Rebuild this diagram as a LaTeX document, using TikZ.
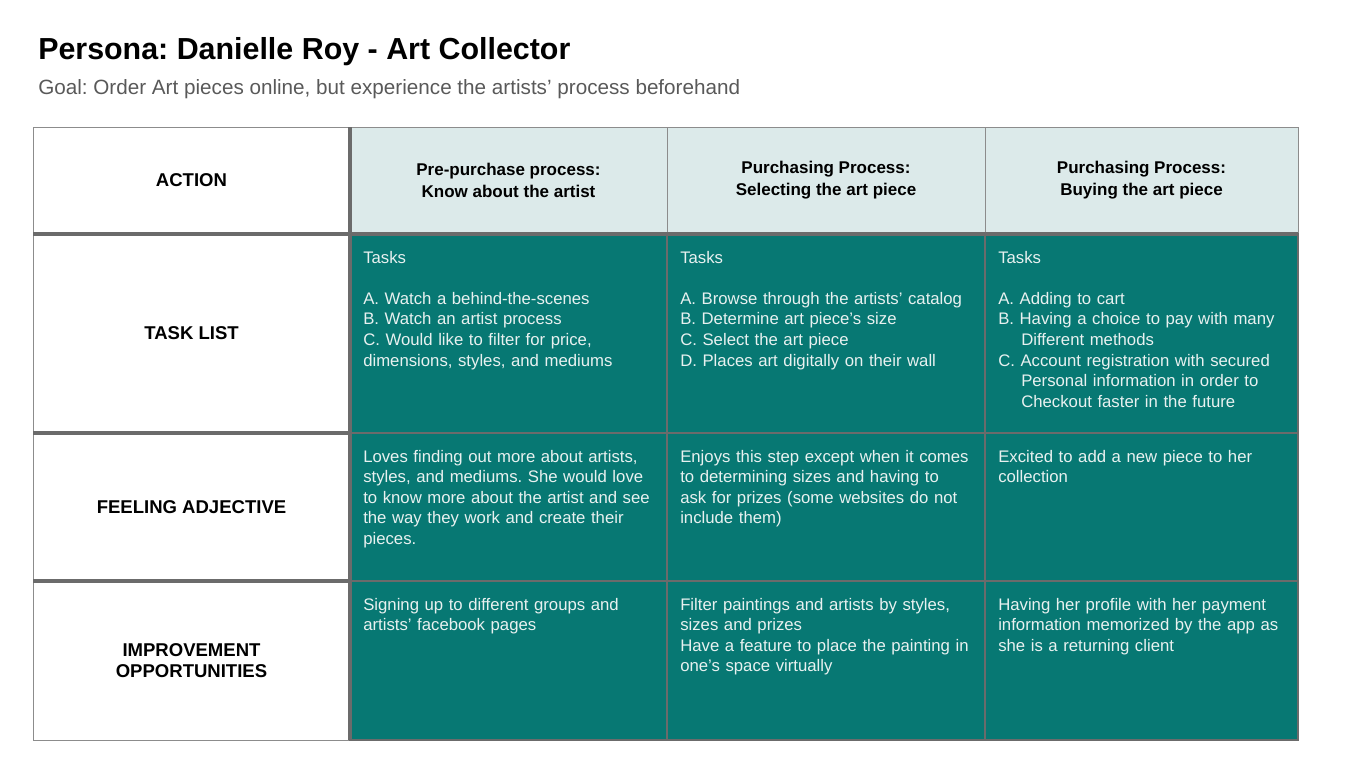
\documentclass[tikz,border=0pt]{standalone}
\usepackage{fontspec}
\setmainfont{Liberation Sans}
\usetikzlibrary{positioning}
\definecolor{myteal}{HTML}{077873}
\definecolor{mymint}{HTML}{DCEAEA}
\definecolor{mygrey}{HTML}{6B6B6B}
\definecolor{mylight}{HTML}{8C8C8C}
\definecolor{mytext}{HTML}{E8F1F0}
\definecolor{mygoal}{HTML}{595959}
\frenchspacing

\begin{document}
\begin{tikzpicture}[x=0.75pt, y=-0.75pt, node distance=0pt,
  cell/.style={inner sep=0pt, outer sep=0pt, draw=mylight, line width=0.75pt},
  head/.style={cell, fill=mymint, minimum height=80.25pt, align=center, font=\fontsize{12.75}{16.5}\selectfont\bfseries},
  side/.style={cell, fill=white, minimum width=237.75pt, align=center, font=\fontsize{13.9}{16.3}\selectfont\bfseries},
  body/.style={cell, fill=myteal, draw=none},
  txt/.style={anchor=north west, inner sep=0pt, text width=230pt, align=left, text=mytext, font=\fontsize{12.55}{15.4}\selectfont},
  sep/.style={draw=mygrey, line width=2.4pt}]

\useasboundingbox (0,0) rectangle (1370,771);

% title and goal
\node[anchor=base west, inner sep=0pt, font=\fontsize{22.8}{27}\selectfont\bfseries] (title) at (38,59) {Persona: Danielle Roy - Art Collector};
\node[anchor=base west, inner sep=0pt, text=mygoal, font=\fontsize{15.5}{18}\selectfont] (goal) at (38,94) {Goal: Order Art pieces online, but experience the artists' process beforehand};

% header row
\node[side, minimum height=80.25pt, anchor=north west] (action) at (33,127) {ACTION};
\node[head, minimum width=237.75pt, right=of action] (pre) {Pre-purchase process:\\ Know about the artist};
\node[head, minimum width=238.5pt, right=of pre] (select) {Purchasing Process:\\ Selecting the art piece};
\node[head, minimum width=234.75pt, right=of select] (buy) {Purchasing Process:\\ Buying the art piece};

% left column
\node[side, minimum height=149.25pt, below=of action] (tasklist) {TASK LIST};
\node[side, minimum height=111pt, below=of tasklist] (feeling) {FEELING ADJECTIVE};
\node[side, minimum height=119.25pt, below=of feeling] (improve) {IMPROVEMENT\\ OPPORTUNITIES};

% teal cells
\node[body, minimum width=237.75pt, minimum height=149.25pt, below=of pre] (pretask) {};
\node[body, minimum width=238.5pt, minimum height=149.25pt, below=of select] (seltask) {};
\node[body, minimum width=234.75pt, minimum height=149.25pt, below=of buy] (buytask) {};
\node[body, minimum width=237.75pt, minimum height=111pt, below=of pretask] (prefeel) {};
\node[body, minimum width=238.5pt, minimum height=111pt, below=of seltask] (selfeel) {};
\node[body, minimum width=234.75pt, minimum height=111pt, below=of buytask] (buyfeel) {};
\node[body, minimum width=237.75pt, minimum height=119.25pt, below=of prefeel] (preimp) {};
\node[body, minimum width=238.5pt, minimum height=119.25pt, below=of selfeel] (selimp) {};
\node[body, minimum width=234.75pt, minimum height=119.25pt, below=of buyfeel] (buyimp) {};

% teal grid lines
\foreach \c in {pretask,seltask,buytask,prefeel,selfeel,buyfeel,preimp,selimp,buyimp}
  \draw[mygrey, line width=1.1pt] (\c.north west) rectangle (\c.south east);

% thick separators
\draw[sep] (action.south west) -- (buy.south east);
\draw[sep] (tasklist.south west) -- (tasklist.south east);
\draw[sep] (feeling.south west) -- (feeling.south east);
\draw[sep] (action.north east) -- (improve.south east);

% task list texts
\node[txt] (pretasktxt) at ([xshift=9.75pt,yshift=-12.75pt]pretask.north west) {Tasks\\[15.4pt]A. Watch a behind-the-scenes\\ B. Watch an artist process\\ C. Would like to filter for price,\\ dimensions, styles, and mediums};
\node[txt] (seltasktxt) at ([xshift=9.75pt,yshift=-12.75pt]seltask.north west) {Tasks\\[15.4pt]A. Browse through the artists' catalog\\ B. Determine art piece's size\\ C. Select the art piece\\ D. Places art digitally on their wall};
\node[txt] (buytasktxt) at ([xshift=9.75pt,yshift=-12.75pt]buytask.north west) {Tasks\\[15.4pt]A. Adding to cart\\ B. Having a choice to pay with many\\ \hspace*{17.25pt}Different methods\\ C. Account registration with secured\\ \hspace*{17.25pt}Personal information in order to\\ \hspace*{17.25pt}Checkout faster in the future};

% feeling texts
\node[txt] (prefeeltxt) at ([xshift=9.75pt,yshift=-12.75pt]prefeel.north west) {Loves finding out more about artists,\\ styles, and mediums. She would love\\ to know more about the artist and see\\ the way they work and create their\\ pieces.};
\node[txt] (selfeeltxt) at ([xshift=9.75pt,yshift=-12.75pt]selfeel.north west) {Enjoys this step except when it comes\\ to determining sizes and having to\\ ask for prizes (some websites do not\\ include them)};
\node[txt] (buyfeeltxt) at ([xshift=9.75pt,yshift=-12.75pt]buyfeel.north west) {Excited to add a new piece to her\\ collection};

% improvement texts
\node[txt] (preimptxt) at ([xshift=9.75pt,yshift=-12.75pt]preimp.north west) {Signing up to different groups and\\ artists' facebook pages};
\node[txt] (selimptxt) at ([xshift=9.75pt,yshift=-12.75pt]selimp.north west) {Filter paintings and artists by styles,\\ sizes and prizes\\ Have a feature to place the painting in\\ one's space virtually};
\node[txt] (buyimptxt) at ([xshift=9.75pt,yshift=-12.75pt]buyimp.north west) {Having her profile with her payment\\ information memorized by the app as\\ she is a returning client};

\end{tikzpicture}
\end{document}
